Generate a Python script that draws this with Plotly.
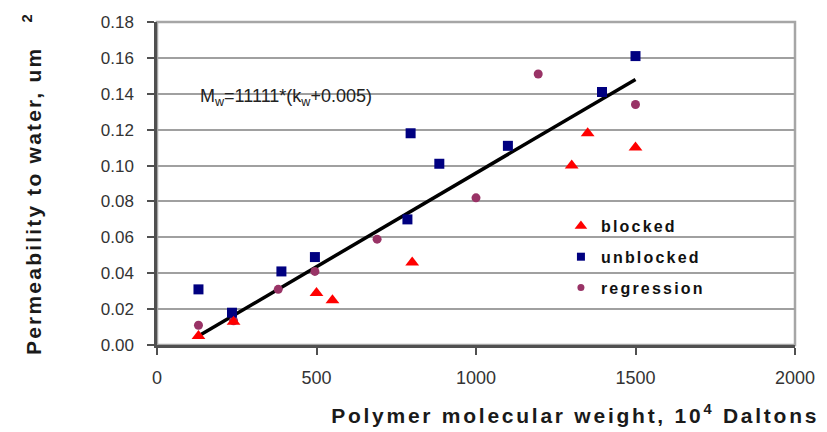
import plotly.graph_objects as go

# ---- data ----
blocked_x = [130, 240, 500, 550, 800, 1300, 1350, 1500]
blocked_y = [0.005, 0.013, 0.029, 0.025, 0.046, 0.100, 0.118, 0.110]

unblocked_x = [130, 235, 390, 495, 785, 795, 885, 1100, 1395, 1500]
unblocked_y = [0.031, 0.018, 0.041, 0.049, 0.070, 0.118, 0.101, 0.111, 0.141, 0.161]

regression_x = [130, 240, 380, 495, 690, 1000, 1195, 1500]
regression_y = [0.011, 0.0135, 0.031, 0.041, 0.059, 0.082, 0.151, 0.134]

fit_x = [130, 1500]
fit_y = [0.005, 0.148]

x_ticks = [0, 500, 1000, 1500, 2000]
y_ticks = [0.00, 0.02, 0.04, 0.06, 0.08, 0.10, 0.12, 0.14, 0.16, 0.18]

series_names = ["blocked", "unblocked", "regression"]
x_title = "Polymer molecular weight, 10<sup>4</sup> Daltons"
y_title = "Permeability to water, um\u00a0\u00a0\u00a0<sup>2</sup>"
equation = "M<sub>w</sub>=11111*(k<sub>w</sub>+0.005)"

FONT = "Liberation Sans, Arial, sans-serif"
C_BLOCKED, C_UNBLOCKED, C_REG = "#ff0000", "#000080", "#993366"

fig = go.Figure()

fig.add_trace(go.Scatter(
    x=fit_x, y=fit_y, mode="lines",
    line=dict(color="black", width=3.5),
    showlegend=False, hoverinfo="skip"))

fig.add_trace(go.Scatter(
    x=regression_x, y=regression_y, mode="markers", name=series_names[2],
    marker=dict(symbol="circle", size=9, color=C_REG),
    legendgroup="c", showlegend=False))

fig.add_trace(go.Scatter(
    x=unblocked_x, y=unblocked_y, mode="markers", name=series_names[1],
    marker=dict(symbol="square", size=10, color=C_UNBLOCKED),
    legendgroup="b", showlegend=False))

fig.add_trace(go.Scatter(
    x=blocked_x, y=blocked_y, mode="markers", name=series_names[0],
    marker=dict(symbol="triangle-up", size=12, color=C_BLOCKED),
    legendgroup="a", showlegend=False))

# legend entries (smaller symbols, as in the reference legend)
for name, sym, size, col, grp, rank in [
        (series_names[0], "triangle-up", 11, C_BLOCKED, "a", 1),
        (series_names[1], "square", 8, C_UNBLOCKED, "b", 2),
        (series_names[2], "circle", 7, C_REG, "c", 3)]:
    fig.add_trace(go.Scatter(
        x=[None], y=[None], mode="markers", name=name,
        marker=dict(symbol=sym, size=size, color=col),
        legendgroup=grp, legendrank=rank, showlegend=True, hoverinfo="skip"))

L, R, T, B = 157, 24, 22, 87
W, H = 827, 432
pw, ph = W - L - R, H - T - B


def px_x(p):
    return (p - L) / pw


def px_y(p):
    return (H - B - p) / ph


fig.update_layout(
    width=W, height=H, autosize=False,
    margin=dict(l=L, r=R, t=T, b=B, pad=0),
    paper_bgcolor="white", plot_bgcolor="white",
    font=dict(family=FONT, color="#333333"),
    showlegend=True,
    legend=dict(
        x=px_x(566), y=px_y(209), xanchor="left", yanchor="top",
        bgcolor="rgba(0,0,0,0)", borderwidth=0,
        font=dict(family=FONT, size=16, color="#111111", weight="bold"),
        tracegroupgap=7, itemsizing="trace", itemwidth=30,
    ),
    xaxis=dict(
        range=[0, 2000], tickvals=x_ticks, ticktext=[str(v) for v in x_ticks],
        showgrid=False, zeroline=False,
        showline=True, linecolor="#505050", linewidth=2.5,
        ticks="outside", ticklen=7, tickwidth=1.5, tickcolor="#505050",
        tickfont=dict(family=FONT, size=18, color="#333333"),
        ticklabelstandoff=8,
    ),
    yaxis=dict(
        range=[0, 0.18], tickvals=y_ticks, ticktext=[f"{v:.2f}" for v in y_ticks],
        showgrid=True, gridcolor="#a0a0a0", gridwidth=1.8,
        zeroline=False,
        showline=True, linecolor="#505050", linewidth=2.5,
        ticks="outside", ticklen=7, tickwidth=1.5, tickcolor="#505050",
        tickfont=dict(family=FONT, size=17, color="#333333"),
        ticklabelstandoff=10,
    ),
    shapes=[
        dict(type="rect", xref="paper", yref="paper", x0=0, x1=1, y0=0, y1=1,
             line=dict(color="#a6a6a6", width=2.5), fillcolor="rgba(0,0,0,0)",
             layer="below"),
        dict(type="rect", xref="paper", yref="paper",
             x0=px_x(555), x1=px_x(733), y0=px_y(300), y1=px_y(212),
             line=dict(width=0), fillcolor="white", layer="between"),
    ],
    annotations=[
        dict(text=equation, x=130, y=0.1377, xref="x", yref="y",
             xanchor="left", yanchor="middle", showarrow=False,
             font=dict(family=FONT, size=18, color="#222222")),
        dict(text=x_title, x=px_x(580), y=px_y(414), xref="paper", yref="paper",
             xanchor="center", yanchor="middle", showarrow=False,
             font=dict(family=FONT, size=21, color="#1a1a1a", weight="bold")),
        dict(text=y_title, x=px_x(30), y=0.5, xref="paper", yref="paper",
             xanchor="center", yanchor="middle", showarrow=False, textangle=-90,
             font=dict(family=FONT, size=21, color="#1a1a1a", weight="bold")),
    ],
)

post = """
var gd = document.getElementById('{plot_id}');
gd.querySelectorAll('.legend [clip-path]').forEach(function(e){ e.removeAttribute('clip-path'); });
gd.querySelectorAll('text.legendtext').forEach(function(t){ t.style.letterSpacing = '2.2px'; });
gd.querySelectorAll('text.annotation-text').forEach(function(t){
  var s = t.textContent;
  if (s.indexOf('Polymer') === 0) { t.style.letterSpacing = '2.75px'; }
  if (s.indexOf('Permeability') === 0) { t.style.letterSpacing = '2.2px'; }
});
"""

fig.write_html("out.html", post_script=post)
